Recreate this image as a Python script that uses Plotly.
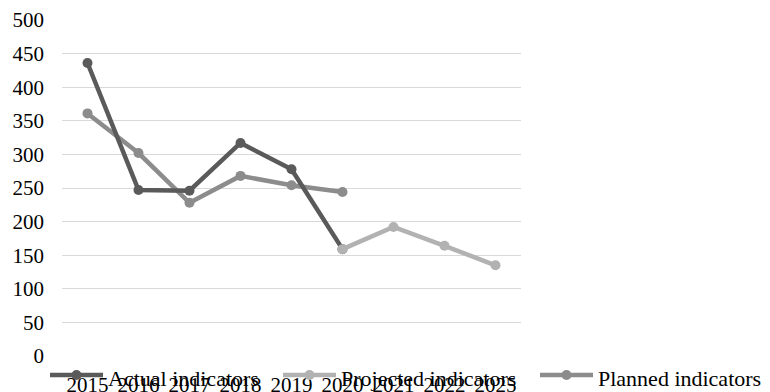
import plotly.graph_objects as go

years = ["2015", "2016", "2017", "2018", "2019", "2020", "2021", "2022", "2025"]

actual_years = ["2015", "2016", "2017", "2018", "2019", "2020"]
actual_values = [436, 247, 246, 317, 278, 159]

projected_years = ["2020", "2021", "2022", "2025"]
projected_values = [159, 192, 164, 135]

planned_years = ["2015", "2016", "2017", "2018", "2019", "2020"]
planned_values = [361, 302, 228, 268, 254, 244]

y_ticks = list(range(0, 501, 50))

series_names = ["Actual indicators", "Projected indicators", "Planned indicators"]
series_colors = ["#5a5a5a", "#b2b2b2", "#8c8c8c"]

FONT = "Liberation Serif, Times New Roman, serif"
FS = 21
FS_LEGEND = 22

W, H = 770, 392
L, R, T, B = 62, 249, 20, 36
PW, PH = W - L - R, H - T - B


def px_x(px):
    return (px - L) / PW


def px_y(py):
    return (H - B - py) / PH


fig = go.Figure()

# drawing order: planned underneath, projected on top
fig.add_trace(go.Scatter(
    x=planned_years, y=planned_values, name=series_names[2],
    mode="lines+markers",
    line=dict(color=series_colors[2], width=4.5),
    marker=dict(size=10, color=series_colors[2]),
))
fig.add_trace(go.Scatter(
    x=actual_years, y=actual_values, name=series_names[0],
    mode="lines+markers",
    line=dict(color=series_colors[0], width=4.5),
    marker=dict(size=10, color=series_colors[0]),
))
fig.add_trace(go.Scatter(
    x=projected_years, y=projected_values, name=series_names[1],
    mode="lines+markers",
    line=dict(color=series_colors[1], width=4.5),
    marker=dict(size=10, color=series_colors[1]),
))

# legend row drawn along the bottom edge
legend_starts = [50, 283, 540]
sample_len = 53
legend_y = 375
shapes, annotations = [], []
for name, color, x0 in zip(series_names, series_colors, legend_starts):
    shapes.append(dict(
        type="line", xref="paper", yref="paper",
        x0=px_x(x0), x1=px_x(x0 + sample_len),
        y0=px_y(legend_y), y1=px_y(legend_y),
        line=dict(color=color, width=4.5), layer="above",
    ))
    shapes.append(dict(
        type="circle", xref="paper", yref="paper",
        xsizemode="pixel", ysizemode="pixel",
        xanchor=px_x(x0 + sample_len / 2), yanchor=px_y(legend_y),
        x0=-5, x1=5, y0=-5, y1=5,
        fillcolor=color, line=dict(color=color, width=0), layer="above",
    ))
    annotations.append(dict(
        text=name, xref="paper", yref="paper",
        x=px_x(x0 + sample_len + 3), y=px_y(legend_y + 3),
        xanchor="left", yanchor="middle", showarrow=False,
        font=dict(family=FONT, size=FS_LEGEND, color="black"),
    ))

fig.update_layout(
    width=W, height=H,
    margin=dict(l=L, r=R, t=T, b=B),
    paper_bgcolor="white", plot_bgcolor="white",
    font=dict(family=FONT, size=FS, color="black"),
    showlegend=False,
    shapes=shapes,
    annotations=annotations,
)

fig.update_xaxes(
    type="category", categoryorder="array", categoryarray=years,
    tickvals=years, ticktext=years, tickangle=0,
    showgrid=False, showline=False, zeroline=False, ticks="",
    tickfont=dict(family=FONT, size=FS, color="black"),
    range=[-0.5, len(years) - 0.5], automargin=False,
    ticklabelstandoff=14,
)
fig.update_yaxes(
    range=[0, 500], tickvals=y_ticks, ticks="",
    showgrid=True, gridcolor="#d9d9d9", gridwidth=1,
    zeroline=False, showline=False,
    tickfont=dict(family=FONT, size=FS, color="black"),
    ticklabelstandoff=17, automargin=False,
)

fig.write_html("out.html")
